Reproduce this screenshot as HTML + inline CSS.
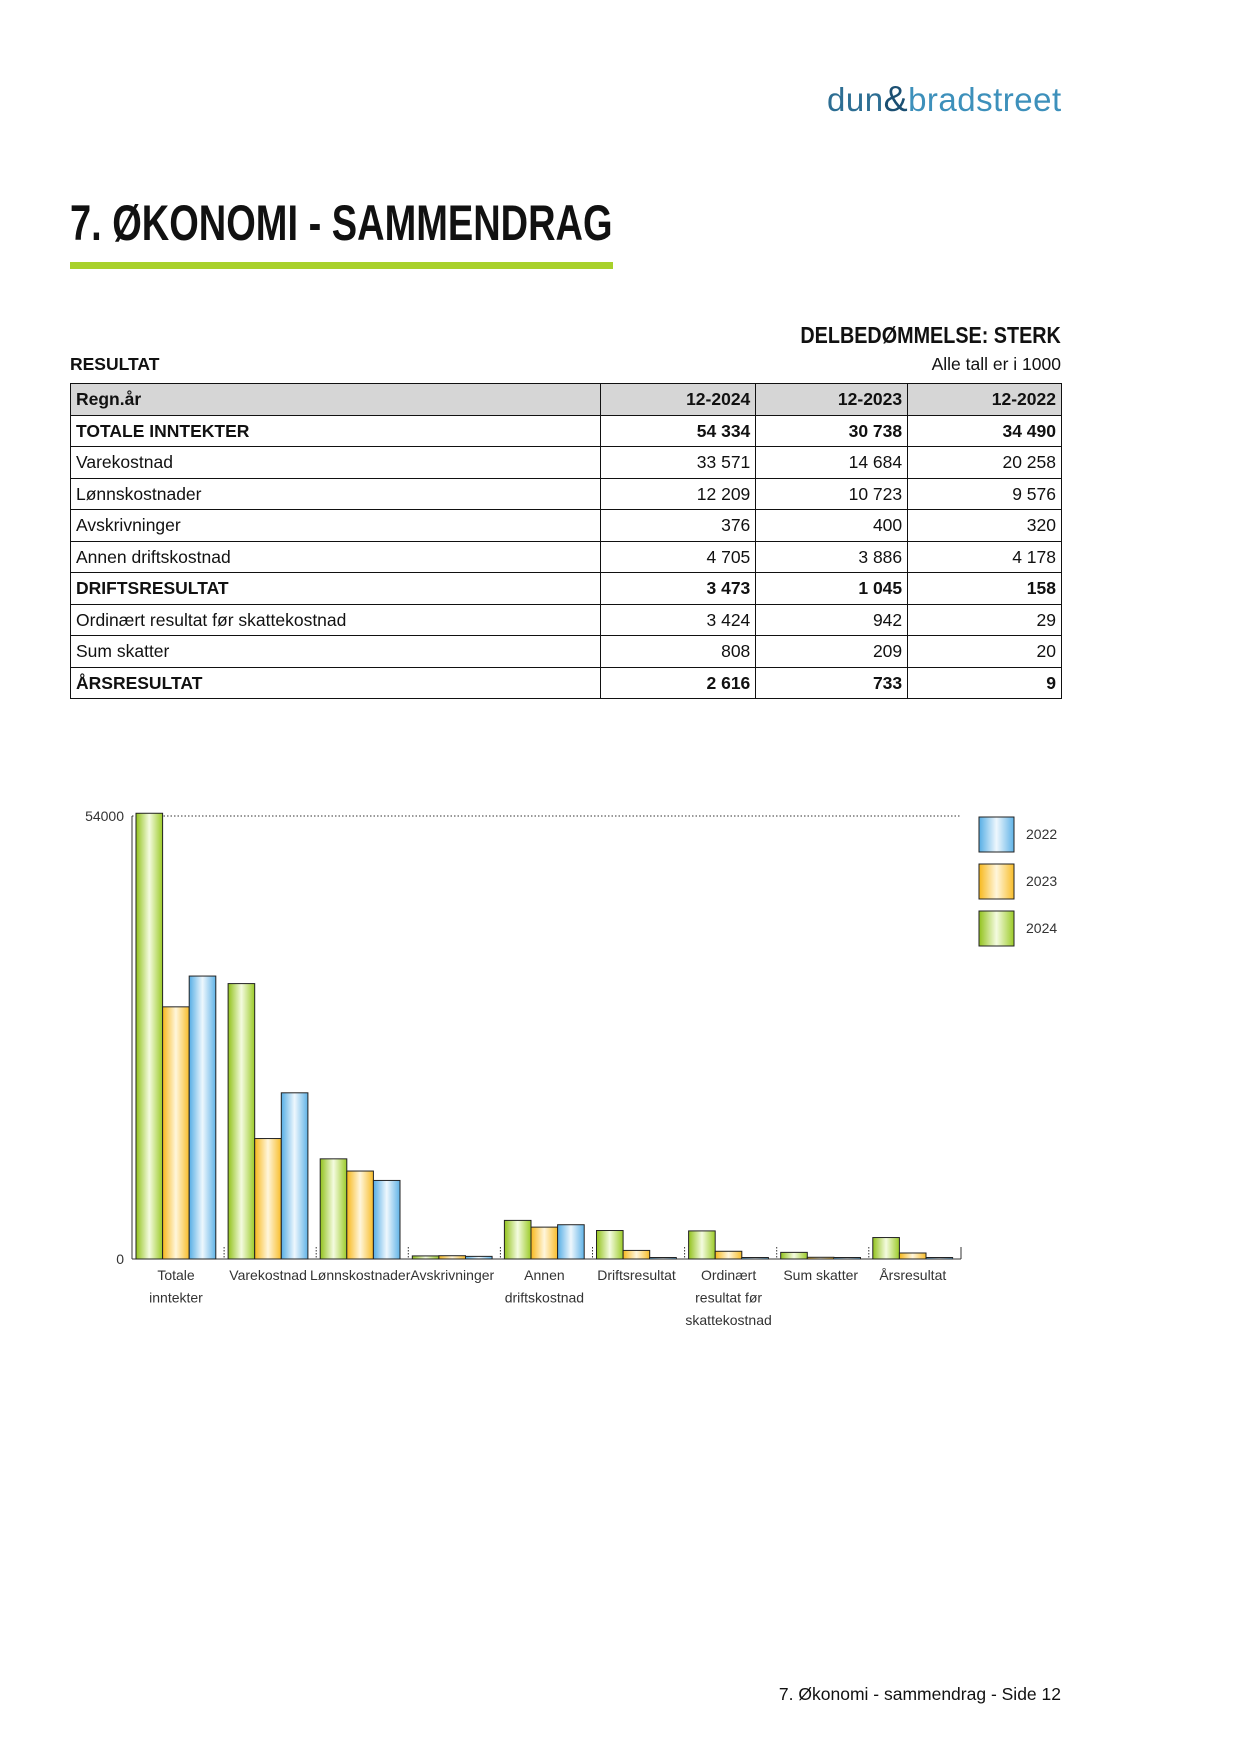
<!DOCTYPE html>
<html><head><meta charset="utf-8"><style>
body{margin:0;width:1241px;height:1754px;background:#fff;position:relative;font-family:"Liberation Sans",sans-serif;color:#111;overflow:hidden}
.abs{position:absolute}
.title{left:70px;top:194px;font-weight:bold;font-size:50px;white-space:nowrap;transform:scaleX(0.76);transform-origin:left top}
table{position:absolute;left:70px;top:383px;width:992px;border-collapse:collapse;font-size:17.5px}
td{border:1px solid #111;height:30.5px;padding:0 5px;line-height:30px}
td.n{text-align:right}
tr.b td{font-weight:bold}
tr.h td{background:#d6d6d6;font-weight:bold}
</style></head><body>
<div class="abs" style="left:827px;top:78px;font-size:33px;color:#2d6e93;letter-spacing:0.5px;white-space:nowrap">dun<span style="color:#1b4f72;font-size:36px">&amp;</span><span style="color:#3d90bb">bradstreet</span></div>
<div class="abs title">7. ØKONOMI - SAMMENDRAG</div>
<div class="abs" style="left:70px;top:262px;width:543px;height:7px;background:#a8d12a"></div>
<div class="abs" style="right:180px;top:322px;font-weight:bold;font-size:23px;white-space:nowrap;transform:scaleX(0.86);transform-origin:right top">DELBEDØMMELSE: STERK</div>
<div class="abs" style="left:70px;top:354px;font-weight:bold;font-size:17.5px">RESULTAT</div>
<div class="abs" style="right:180px;top:354px;font-size:17.5px">Alle tall er i 1000</div>
<table>
<colgroup><col style="width:531px"><col style="width:155px"><col style="width:152px"><col style="width:154px"></colgroup>
<tr class="h"><td>Regn.år</td><td class="n">12-2024</td><td class="n">12-2023</td><td class="n">12-2022</td></tr>
<tr class="b"><td>TOTALE INNTEKTER</td><td class="n">54 334</td><td class="n">30 738</td><td class="n">34 490</td></tr>
<tr><td>Varekostnad</td><td class="n">33 571</td><td class="n">14 684</td><td class="n">20 258</td></tr>
<tr><td>Lønnskostnader</td><td class="n">12 209</td><td class="n">10 723</td><td class="n">9 576</td></tr>
<tr><td>Avskrivninger</td><td class="n">376</td><td class="n">400</td><td class="n">320</td></tr>
<tr><td>Annen driftskostnad</td><td class="n">4 705</td><td class="n">3 886</td><td class="n">4 178</td></tr>
<tr class="b"><td>DRIFTSRESULTAT</td><td class="n">3 473</td><td class="n">1 045</td><td class="n">158</td></tr>
<tr><td>Ordinært resultat før skattekostnad</td><td class="n">3 424</td><td class="n">942</td><td class="n">29</td></tr>
<tr><td>Sum skatter</td><td class="n">808</td><td class="n">209</td><td class="n">20</td></tr>
<tr class="b"><td>ÅRSRESULTAT</td><td class="n">2 616</td><td class="n">733</td><td class="n">9</td></tr>
</table>
<svg id="ch" class="abs" style="left:0;top:0" width="1241" height="1754" xmlns="http://www.w3.org/2000/svg" font-family="Liberation Sans, sans-serif" font-size="14" fill="#333">
<defs>
<linearGradient id="g" x1="0" x2="1"><stop offset="0" stop-color="#92c21c"/><stop offset="0.5" stop-color="#f4fbe0"/><stop offset="1" stop-color="#9ccb28"/></linearGradient>
<linearGradient id="o" x1="0" x2="1"><stop offset="0" stop-color="#f7b81c"/><stop offset="0.5" stop-color="#fff6dc"/><stop offset="1" stop-color="#f8bd2a"/></linearGradient>
<linearGradient id="b" x1="0" x2="1"><stop offset="0" stop-color="#56aee5"/><stop offset="0.5" stop-color="#eef7fd"/><stop offset="1" stop-color="#60b3e7"/></linearGradient>
</defs>
<line x1="132" y1="816" x2="961" y2="816" stroke="#333" stroke-dasharray="1.5,2"/>
<line x1="132" y1="1259" x2="961" y2="1259" stroke="#333"/>
<line x1="132" y1="816" x2="132" y2="1259" stroke="#333"/>
<text x="124" y="821" text-anchor="end">54000</text>
<text x="124" y="1264" text-anchor="end">0</text>
<rect x="979" y="817" width="35" height="35" fill="url(#b)" stroke="#222"/>
<rect x="979" y="864" width="35" height="35" fill="url(#o)" stroke="#222"/>
<rect x="979" y="911" width="35" height="35" fill="url(#g)" stroke="#222"/>
<text x="1026" y="839">2022</text><text x="1026" y="886">2023</text><text x="1026" y="933">2024</text>
<g id="bars"></g>
<g id="labs" text-anchor="middle"></g>
</svg>
<div class="abs" style="right:180px;top:1684px;font-size:17.5px">7. Økonomi - sammendrag - Side 12</div>
<script>
var d=[[54334,30738,34490],[33571,14684,20258],[12209,10723,9576],[376,400,320],[4705,3886,4178],[3473,1045,158],[3424,942,29],[808,209,20],[2616,733,9]];
var L=[["Totale","inntekter"],["Varekostnad"],["Lønnskostnader"],["Avskrivninger"],["Annen","driftskostnad"],["Driftsresultat"],["Ordinært","resultat før","skattekostnad"],["Sum skatter"],["Årsresultat"]];
var f=["url(#g)","url(#o)","url(#b)"],s="",t="";
for(var i=0;i<9;i++){var x0=132+i*92.1;
 if(i>0)s+='<line x1="'+x0+'" y1="1247" x2="'+x0+'" y2="1259" stroke="#333" stroke-dasharray="1.5,1.5"/>';
 for(var j=0;j<3;j++){var h=d[i][j]*443/54000;if(h<1.5)h=1.5;s+='<rect x="'+(x0+4+j*26.6)+'" y="'+(1259-h)+'" width="26.6" height="'+h+'" fill="'+f[j]+'" stroke="#222" stroke-width="1"/>';}
 for(var k=0;k<L[i].length;k++)t+='<text x="'+(x0+44)+'" y="'+(1280+k*22.4)+'">'+L[i][k]+'</text>';}
s+='<line x1="961" y1="1247" x2="961" y2="1259" stroke="#333"/>';
document.getElementById("bars").innerHTML=s;document.getElementById("labs").innerHTML=t;
</script>
</body></html>
